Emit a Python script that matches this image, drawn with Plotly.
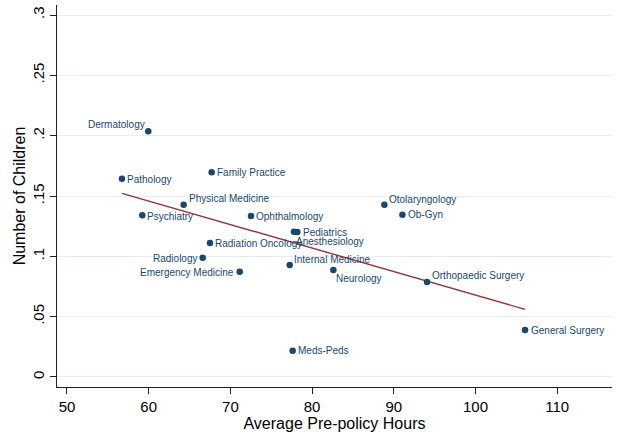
import plotly.graph_objects as go

# ---- data ----
specialties = ["Dermatology", "Pathology", "Family Practice", "Physical Medicine",
               "Psychiatry", "Ophthalmology", "Pediatrics", "Anesthesiology",
               "Radiation Oncology", "Radiology", "Emergency Medicine",
               "Internal Medicine", "Neurology", "Otolaryngology", "Ob-Gyn",
               "Orthopaedic Surgery", "General Surgery", "Meds-Peds"]
hours = [59.95, 56.73, 67.71, 64.28, 59.22, 72.52, 78.19, 77.78,
         67.50, 66.61, 71.14, 77.26, 82.60, 88.84, 91.05, 94.06, 106.06, 77.62]
children = [0.2036, 0.1643, 0.1696, 0.1428, 0.1340, 0.1334, 0.1202, 0.1204,
            0.1110, 0.0989, 0.0873, 0.0928, 0.0887, 0.1428, 0.1345, 0.0787, 0.0390, 0.0218]

fit_hours = [56.73, 106.06]
fit_children = [0.1522, 0.0561]

x_ticks = [50, 60, 70, 80, 90, 100, 110]
y_ticks = [0, 0.05, 0.1, 0.15, 0.2, 0.25, 0.3]
y_tick_labels = ["0", ".05", ".1", ".15", ".2", ".25", ".3"]

# ---- label placement (style) : anchor, xshift, yshift ----
label_style = {
    "Dermatology": ("right", -3, 7),
    "Pathology": ("left", 5, -1),
    "Family Practice": ("left", 5, 0),
    "Physical Medicine": ("left", 5, 6),
    "Psychiatry": ("left", 5, -1),
    "Ophthalmology": ("left", 5.5, -0.5),
    "Pediatrics": ("left", 6, -0.5),
    "Anesthesiology": ("left", 2.5, -10),
    "Radiation Oncology": ("left", 5.5, -0.5),
    "Radiology": ("right", -6, -1),
    "Emergency Medicine": ("right", -6, -0.5),
    "Internal Medicine": ("left", 4.5, 5.5),
    "Neurology": ("left", 3, -9),
    "Otolaryngology": ("left", 4.5, 5.5),
    "Ob-Gyn": ("left", 5.5, 0),
    "Orthopaedic Surgery": ("left", 5, 6.5),
    "General Surgery": ("left", 5.5, -1),
    "Meds-Peds": ("left", 5.5, 0),
}

NAVY = "#1a476f"
MAROON = "#90353b"
FONT = "Liberation Sans, Arial, sans-serif"

fig = go.Figure()
fig.add_trace(go.Scatter(
    x=fit_hours, y=fit_children, mode="lines",
    line=dict(color=MAROON, width=1.4), hoverinfo="skip", showlegend=False))
fig.add_trace(go.Scatter(
    x=hours, y=children, mode="markers", text=specialties,
    marker=dict(color=NAVY, size=6.5), showlegend=False))

for name, xv, yv in zip(specialties, hours, children):
    anchor, dx, dy = label_style[name]
    fig.add_annotation(
        x=xv, y=yv, xref="x", yref="y", text=name, showarrow=False,
        xanchor=anchor, yanchor="middle", xshift=dx, yshift=dy,
        borderpad=0, borderwidth=0,
        font=dict(family=FONT, size=10, color=NAVY))

fig.update_layout(
    width=618, height=434,
    margin=dict(l=57, r=6, t=5, b=47),
    paper_bgcolor="white", plot_bgcolor="white",
    font=dict(family=FONT, color="black"),
)
fig.update_xaxes(
    range=[48.78, 116.7], tickvals=x_ticks, ticktext=[str(t) for t in x_ticks],
    showgrid=False, zeroline=False,
    showline=True, linecolor="#222222", linewidth=1.3,
    ticks="outside", ticklen=6, tickcolor="#222222", tickwidth=1,
    tickfont=dict(size=15, family=FONT, color="black"),
    title=dict(text="Average Pre-policy Hours", font=dict(size=16, family=FONT, color="black"), standoff=2),
)
fig.update_yaxes(
    range=[-0.0083, 0.3083], tickvals=y_ticks, ticktext=y_tick_labels,
    tickangle=-90,
    showgrid=True, gridcolor="#e6eef0", gridwidth=1.2, zeroline=False,
    showline=True, linecolor="#222222", linewidth=1.3,
    ticks="outside", ticklen=6, tickcolor="#222222", tickwidth=1,
    tickfont=dict(size=15, family=FONT, color="black"),
    title=dict(text="Number of Children", font=dict(size=16, family=FONT, color="black"), standoff=0),
)

fig.write_html("out.html")
